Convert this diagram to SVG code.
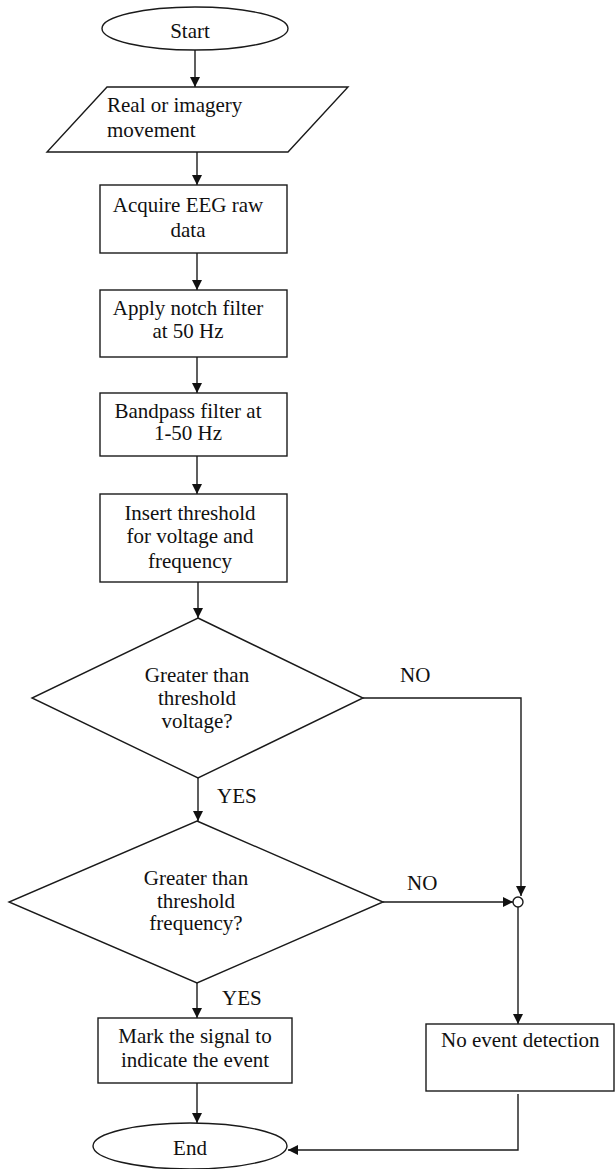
<svg xmlns="http://www.w3.org/2000/svg" width="615" height="1169" viewBox="0 0 615 1169">
<style>
.s{fill:#fff;stroke:#1a1a1a;stroke-width:1.4}
.c{fill:none;stroke:#1a1a1a;stroke-width:1.4}
text{font-family:"Liberation Serif","Times New Roman",serif;font-size:21px;fill:#111}
.m{text-anchor:middle}
</style>
<defs>
<marker id="ah" viewBox="0 0 10 10" refX="10" refY="5" markerWidth="10" markerHeight="10" markerUnits="userSpaceOnUse" orient="auto">
<path d="M0,0 L10,5 L0,10 z" fill="#111"/>
</marker>
</defs>
<rect width="615" height="1169" fill="#fff"/>
<g id="connectors">
<line class="c" x1="195" y1="50" x2="195" y2="87" marker-end="url(#ah)"/>
<line class="c" x1="197" y1="152" x2="197" y2="185" marker-end="url(#ah)"/>
<line class="c" x1="197" y1="253" x2="197" y2="290" marker-end="url(#ah)"/>
<line class="c" x1="197" y1="357" x2="197" y2="393" marker-end="url(#ah)"/>
<line class="c" x1="197" y1="456" x2="197" y2="494" marker-end="url(#ah)"/>
<line class="c" x1="198" y1="582" x2="198" y2="618" marker-end="url(#ah)"/>
<line class="c" x1="198" y1="778" x2="198" y2="821" marker-end="url(#ah)"/>
<polyline class="c" points="363,698 521,698 521,896" marker-end="url(#ah)"/>
<line class="c" x1="383" y1="902" x2="513" y2="902" marker-end="url(#ah)"/>
<circle class="s" cx="518" cy="902" r="5"/>
<line class="c" x1="518" y1="907" x2="518" y2="1024" marker-end="url(#ah)"/>
<line class="c" x1="197" y1="983" x2="197" y2="1018" marker-end="url(#ah)"/>
<line class="c" x1="197" y1="1083" x2="197" y2="1123" marker-end="url(#ah)"/>
<polyline class="c" points="518,1094 518,1150 288,1150" marker-end="url(#ah)"/>
<text x="400" y="682">NO</text>
<text x="217" y="803">YES</text>
<text x="407" y="890">NO</text>
<text x="222" y="1005">YES</text>
</g>
<g id="start">
<ellipse class="s" cx="195" cy="28.5" rx="93" ry="21.5"/>
<text class="m" x="190" y="38">Start</text>
</g>
<g id="input">
<polygon class="s" points="107,87 348,87 288,152 47,152"/>
<text x="107" y="112">Real or imagery</text>
<text x="107" y="137">movement</text>
</g>
<g id="acquire">
<rect class="s" x="100" y="185" width="187" height="68"/>
<text class="m" x="188" y="212">Acquire EEG raw</text>
<text class="m" x="188" y="237">data</text>
</g>
<g id="notch">
<rect class="s" x="100" y="290" width="187" height="67"/>
<text class="m" x="188" y="315">Apply notch filter</text>
<text class="m" x="188" y="338">at 50 Hz</text>
</g>
<g id="bandpass">
<rect class="s" x="100" y="393" width="187" height="63"/>
<text class="m" x="188" y="418">Bandpass filter at</text>
<text class="m" x="188" y="440">1-50 Hz</text>
</g>
<g id="threshold">
<rect class="s" x="100" y="494" width="187" height="88"/>
<text class="m" x="190" y="520">Insert threshold</text>
<text class="m" x="190" y="543">for voltage and</text>
<text class="m" x="190" y="568">frequency</text>
</g>
<g id="voltage">
<polygon class="s" points="198,618 363,698 198,778 32,698"/>
<text class="m" x="197" y="682">Greater than</text>
<text class="m" x="197" y="705">threshold</text>
<text class="m" x="197" y="728">voltage?</text>
</g>
<g id="frequency">
<polygon class="s" points="197,821 383,902 197,983 9,902"/>
<text class="m" x="196" y="885">Greater than</text>
<text class="m" x="196" y="908">threshold</text>
<text class="m" x="196" y="930">frequency?</text>
</g>
<g id="mark">
<rect class="s" x="98" y="1018" width="194" height="65"/>
<text class="m" x="195" y="1043">Mark the signal to</text>
<text class="m" x="195" y="1067">indicate the event</text>
</g>
<g id="noevent">
<rect class="s" x="426" y="1024" width="188" height="67"/>
<text x="441" y="1047">No event detection</text>
</g>
<g id="end">
<ellipse class="s" cx="190" cy="1146" rx="97" ry="23"/>
<text class="m" x="190" y="1155">End</text>
</g>
</svg>
